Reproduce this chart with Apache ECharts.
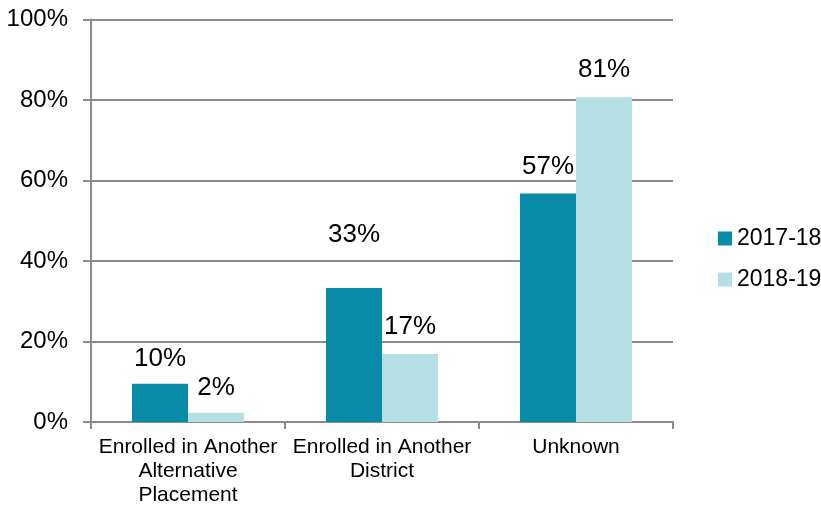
<!DOCTYPE html>
<html><head><meta charset="utf-8">
<script src="https://cdn.jsdelivr.net/npm/echarts@6/dist/echarts.min.js"></script>
<style>html,body{margin:0;padding:0;background:#fff}#c{width:821px;height:507px}</style>
</head><body><div id="c"></div>
<script>
const categories = ['Enrolled in Another\nAlternative\nPlacement', 'Enrolled in Another\nDistrict', 'Unknown'];
const seriesNames = ['2017-18', '2018-19'];
const values1718 = [9.5, 33.3, 56.8];
const values1819 = [2.3, 16.9, 80.7];
const yTicks = [0, 20, 40, 60, 80, 100];
const labelDist1718 = [12, 40, 14];
const labelDist1819 = [12, 14, 14];

const font = 'Liberation Sans, Arial, sans-serif';
const chart = echarts.init(document.getElementById('c'));
function mk(vals, dists) {
  return vals.map((v, i) => ({ value: v, label: { distance: dists[i] } }));
}
const labelCfg = {
  show: true, position: 'top', color: '#000', fontSize: 26, fontFamily: font,
  formatter: p => Math.round(p.value) + '%'
};
chart.setOption({
  animation: false,
  grid: { left: 91, right: 148, top: 19.5, bottom: 83.5, containLabel: false },
  legend: {
    orient: 'vertical', left: 713, top: 222, itemGap: 18,
    itemWidth: 14, itemHeight: 14, icon: 'rect',
    textStyle: { fontSize: 23, fontFamily: font, color: '#000', padding: [0, 0, 0, 0] },
    data: seriesNames
  },
  xAxis: {
    type: 'category', data: categories,
    axisLine: { lineStyle: { color: '#8c8c8c', width: 2 } },
    axisTick: { show: true, length: 7, lineStyle: { color: '#8c8c8c', width: 2 } },
    axisLabel: { fontSize: 21, fontFamily: font, color: '#000', lineHeight: 24, margin: 13, interval: 0 }
  },
  yAxis: {
    type: 'value', min: 0, max: 100, interval: 20,
    axisLine: { show: true, lineStyle: { color: '#8c8c8c', width: 2 } },
    axisTick: { show: true, length: 8, lineStyle: { color: '#8c8c8c', width: 2 } },
    splitLine: { lineStyle: { color: '#8c8c8c', width: 2 } },
    axisLabel: { fontSize: 24, fontFamily: font, color: '#000', margin: 23,
      formatter: v => yTicks.includes(v) ? v + '%' : '' }
  },
  series: [
    { name: seriesNames[0], type: 'bar', data: mk(values1718, labelDist1718), barWidth: 56, barGap: '0%',
      itemStyle: { color: '#078BA8' }, label: labelCfg },
    { name: seriesNames[1], type: 'bar', data: mk(values1819, labelDist1819), barWidth: 56, barGap: '0%',
      itemStyle: { color: '#B5DEE5' }, label: labelCfg }
  ]
});
</script></body></html>
